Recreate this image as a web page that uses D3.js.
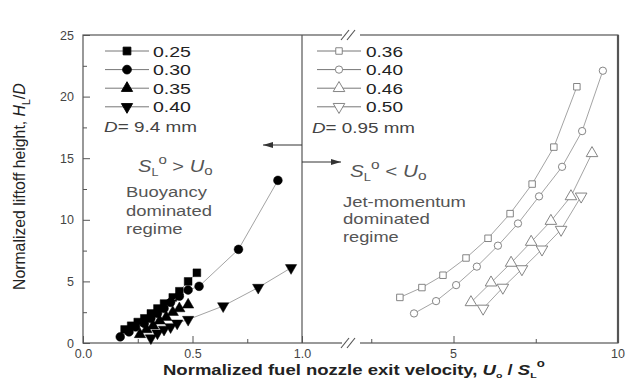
<html>
<head>
<meta charset="utf-8">
<script src="https://cdnjs.cloudflare.com/ajax/libs/d3/7.8.5/d3.min.js"></script>
<style>
  body { margin: 0; background: #fff; overflow: hidden; }
  svg { display: block; }
  text { font-family: "Liberation Sans", Arial, sans-serif; }
</style>
</head>
<body>
<svg width="637" height="380"></svg>
<script>
// ---- data: D = 9.4 mm (filled, left panel) ----
const s025 = [[0.19,1.1],[0.22,1.4],[0.25,1.7],[0.28,2.0],[0.31,2.4],[0.34,2.8],[0.37,3.2],[0.41,3.7],[0.44,4.2],[0.48,5.0],[0.52,5.7]];
const s030 = [[0.17,0.5],[0.21,0.9],[0.24,1.3],[0.28,1.6],[0.31,2.0],[0.34,2.4],[0.37,2.8],[0.40,3.3],[0.44,3.8],[0.48,4.3],[0.53,4.6],[0.71,7.6],[0.89,13.2]];
const s035 = [[0.26,0.7],[0.29,1.1],[0.32,1.4],[0.35,1.8],[0.38,2.1],[0.41,2.5],[0.44,2.8],[0.48,3.1]];
const s040 = [[0.31,0.4],[0.34,0.8],[0.37,1.1],[0.40,1.3],[0.43,1.6],[0.48,1.9],[0.64,3.0],[0.80,4.5],[0.95,6.1]];
// ---- data: D = 0.95 mm (open, right panel) ----
const s036 = [[3.37,3.7],[4.04,4.5],[4.68,5.5],[5.38,6.9],[6.05,8.5],[6.72,10.5],[7.39,12.9],[8.05,15.9],[8.75,20.8]];
const s040b = [[3.80,2.4],[4.47,3.4],[5.08,4.7],[5.71,6.2],[6.35,7.9],[6.96,9.7],[7.60,11.9],[8.30,14.3],[8.91,17.2],[9.54,22.1]];
const s046 = [[5.53,3.3],[6.14,4.9],[6.75,6.5],[7.36,8.2],[7.96,9.9],[8.57,11.9],[9.21,15.4]];
const s050 = [[5.90,2.8],[6.50,4.5],[7.08,6.0],[7.69,7.6],[8.27,9.2],[8.88,11.9]];

const leftLabels = ["0.25","0.30","0.35","0.40"];
const rightLabels = ["0.36","0.40","0.46","0.50"];
const yTicks = [0,5,10,15,20,25];
const yMinor = [2.5,7.5,12.5,17.5,22.5];
const xLTicks = [0,0.5,1.0];
const xLMinor = [0.25,0.75];
const xRTicks = [5,10];
const xRMinor = [2.5,7.5];

const svg = d3.select("svg");
const frame = "#555";
const pL = 83, pR = 618, pT = 35, pB = 343, split = 302;

const y = d3.scaleLinear().domain([0,25]).range([pB, pT]);
const xL = d3.scaleLinear().domain([0,1]).range([pL, split]);
const xR = d3.scaleLinear().domain([0,10]).range([289, pR]);

// frame
svg.append("rect").attr("x", pL).attr("y", pT).attr("width", pR-pL).attr("height", pB-pT)
  .attr("fill", "none").attr("stroke", frame).attr("stroke-width", 1.2);
svg.append("line").attr("x1", pR).attr("x2", pR).attr("y1", pT).attr("y2", pB)
  .attr("stroke", frame).attr("stroke-width", 2.2);
svg.append("line").attr("x1", split).attr("x2", split).attr("y1", pT).attr("y2", pB)
  .attr("stroke", frame).attr("stroke-width", 1.2);

// y axis
svg.append("g").attr("transform", `translate(${pL},0)`)
  .call(d3.axisLeft(y).tickValues(yTicks).tickSize(-7).tickPadding(9));
svg.append("g").attr("transform", `translate(${pL},0)`)
  .call(d3.axisLeft(y).tickValues(yMinor).tickSize(-4).tickFormat(""));

// x axes
svg.append("g").attr("transform", `translate(0,${pB})`)
  .call(d3.axisBottom(xL).tickValues(xLTicks).tickSize(-7).tickPadding(6).tickFormat(d3.format(".1f")));
svg.append("g").attr("transform", `translate(0,${pB})`)
  .call(d3.axisBottom(xL).tickValues(xLMinor).tickSize(-4).tickFormat(""));
svg.append("g").attr("transform", `translate(0,${pB})`)
  .call(d3.axisBottom(xR).tickValues(xRTicks).tickSize(-7).tickFormat(""));
svg.append("g").attr("transform", `translate(0,${pB})`)
  .call(d3.axisBottom(xR).tickValues(xRMinor).tickSize(-4).tickFormat(""));

svg.selectAll(".domain").remove();
svg.selectAll(".tick line").attr("stroke", frame);
svg.selectAll(".tick text").attr("font-size", 12.5).attr("fill", "#444");

// right-hand tick labels
svg.append("g").selectAll("text").data(xRTicks).join("text")
  .attr("x", d => xR(d)).attr("y", pB + 15).attr("text-anchor", "middle")
  .attr("font-size", 12.5).attr("fill", "#444").text(d => d);

// axis breaks
[pT, pB].forEach(yy => {
  svg.append("rect").attr("x", 342).attr("y", yy-3).attr("width", 18).attr("height", 6).attr("fill", "#fff");
  [0, 6].forEach(dx => {
    svg.append("line").attr("x1", 341+dx).attr("y1", yy+5).attr("x2", 349+dx).attr("y2", yy-5)
      .attr("stroke", frame).attr("stroke-width", 1.2);
  });
});

// series
const line = (sx) => d3.line().x(d => sx(d[0])).y(d => y(d[1]));
const sym = {
  sq: d3.symbol().type(d3.symbolSquare),
  ci: d3.symbol().type(d3.symbolCircle),
  tu: d3.symbol().type(d3.symbolTriangle)
};
function drawSeries(data, sx, kind, size, filled) {
  svg.append("path").datum(data).attr("d", line(sx)).attr("fill", "none")
    .attr("stroke", "#999").attr("stroke-width", 0.9);
  const gen = (kind === "td" ? sym.tu : sym[kind]).size(size);
  svg.append("g").selectAll("path").data(data).join("path")
    .attr("d", gen())
    .attr("transform", d => `translate(${sx(d[0])},${y(d[1])})` + (kind === "td" ? " rotate(180)" : ""))
    .attr("fill", filled ? "#000" : "#fff")
    .attr("stroke", filled ? "#000" : "#777")
    .attr("stroke-width", filled ? 0.5 : 0.9);
}
const leftSeries = [[s025,"sq",60],[s030,"ci",60],[s035,"tu",55],[s040,"td",55]];
const rightSeries = [[s036,"sq",42],[s040b,"ci",42],[s046,"tu",58],[s050,"td",58]];
leftSeries.forEach(s => drawSeries(s[0], xL, s[1], s[2], true));
rightSeries.forEach(s => drawSeries(s[0], xR, s[1], s[2], false));

// text stretched to a given width (the reference is wider than the font)
function fitText(x, yy, w, size, fill, build, sy) {
  const g = svg.append("g");
  const t = g.append("text").attr("font-size", size).attr("fill", fill);
  build(t);
  const bw = t.node().getBBox().width;
  g.attr("transform", `translate(${x},${yy}) scale(${w / bw},${sy || 1})`);
  return t;
}

// legends
function legend(x0, tx, tw, labels, series, filled, dx, dy, dw, dText) {
  labels.forEach((lab, i) => {
    const yy = 51 + i*18.6;
    svg.append("line").attr("x1", x0).attr("x2", x0+44).attr("y1", yy).attr("y2", yy)
      .attr("stroke", "#777").attr("stroke-width", 1);
    const kind = series[i][1];
    const gen = (kind === "td" ? sym.tu : sym[kind]).size(series[i][2]);
    svg.append("path").attr("d", gen())
      .attr("transform", `translate(${x0+22},${yy})` + (kind === "td" ? " rotate(180)" : ""))
      .attr("fill", filled ? "#000" : "#fff").attr("stroke", filled ? "#000" : "#777")
      .attr("stroke-width", 0.9);
    fitText(tx, yy + 5.5, tw, 14.5, "#222", t => t.text(lab));
  });
  fitText(dx, dy, dw, 14, "#444", t => {
    t.append("tspan").attr("font-style", "italic").text("D");
    t.append("tspan").text(dText);
  });
}
legend(105, 153, 38, leftLabels, leftSeries, true, 104, 131.5, 93, "= 9.4 mm");
legend(317, 366, 37, rightLabels, rightSeries, false, 312, 133, 103, "= 0.95 mm");

// arrows
svg.append("defs").append("marker").attr("id", "ah").attr("viewBox", "0 0 10 6")
  .attr("refX", 10).attr("refY", 3).attr("markerWidth", 10).attr("markerHeight", 6)
  .attr("markerUnits", "userSpaceOnUse").attr("orient", "auto")
  .append("path").attr("d", "M0,0 L10,3 L0,6 Z").attr("fill", "#333");
svg.append("line").attr("x1", split).attr("x2", 263).attr("y1", 145).attr("y2", 145)
  .attr("stroke", "#333").attr("stroke-width", 1).attr("marker-end", "url(#ah)");
svg.append("line").attr("x1", split).attr("x2", 341).attr("y1", 162).attr("y2", 162)
  .attr("stroke", "#333").attr("stroke-width", 1).attr("marker-end", "url(#ah)");

// regime annotations
function regime(x0, y0, w0, op, tx, lines) {
  fitText(x0, y0, w0, 16, "#555", t => {
    t.attr("font-family", "'Liberation Serif', serif");
    t.append("tspan").attr("font-style", "italic").text("S");
    t.append("tspan").attr("font-size", 10).attr("dy", 4).text("L");
    t.append("tspan").attr("font-size", 12).attr("dy", -12).text("o");
    t.append("tspan").attr("dy", 8).text(" " + op + " ");
    t.append("tspan").attr("font-style", "italic").text("U");
    t.append("tspan").attr("font-size", 12).attr("dy", 3).text("o");
  });
  lines.forEach(l => fitText(tx, l[1], l[2], 14, "#555", t => t.text(l[0])));
}
regime(138, 172, 75, ">", 126, [["Buoyancy", 197, 81], ["dominated", 216, 86], ["regime", 234, 57]]);
regime(350, 177, 77, "<", 343, [["Jet-momentum", 207, 123], ["dominated", 224, 87], ["regime", 242, 56]]);

// axis titles
const yg = svg.append("g");
const yt = yg.append("text").attr("font-size", 15).attr("fill", "#222");
yt.append("tspan").text("Normalized liftoff height, ");
yt.append("tspan").attr("font-style", "italic").text("H");
yt.append("tspan").attr("font-size", 10).attr("dy", 4).text("L");
yt.append("tspan").attr("dy", -4).text("/");
yt.append("tspan").attr("font-style", "italic").text("D");
const yw = yt.node().getBBox().width;
yg.attr("transform", `translate(25,290) rotate(-90) scale(${207 / yw},1.15)`);

const xg = svg.append("g");
const xt = xg.append("text").attr("font-size", 14).attr("font-weight", "bold").attr("fill", "#222");
xt.append("tspan").text("Normalized fuel nozzle exit velocity,  ");
xt.append("tspan").attr("font-style", "italic").text("U");
xt.append("tspan").attr("font-size", 8).attr("dy", 3).text("o");
xt.append("tspan").attr("dy", -3).text("  /  ");
xt.append("tspan").attr("font-style", "italic").text("S");
xt.append("tspan").attr("font-size", 8).attr("dy", 3).text("L");
xt.append("tspan").attr("font-size", 10).attr("dy", -11).text("o");
const xw = xt.node().getBBox().width;
xg.attr("transform", `translate(163,375) scale(${382 / xw},1)`);
</script>
</body>
</html>
